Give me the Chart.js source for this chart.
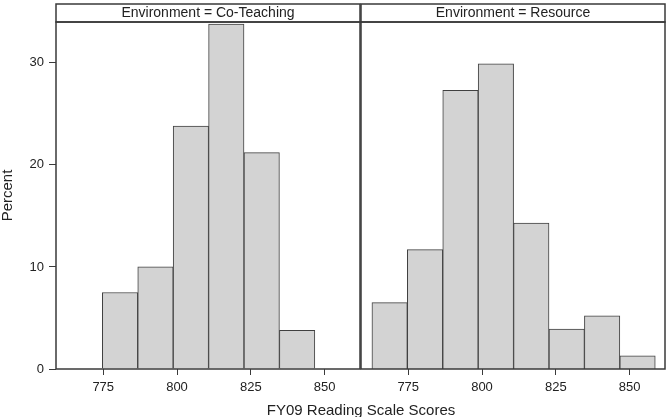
<!DOCTYPE html>
<html>
<head>
<meta charset="utf-8">
<script src="https://cdn.jsdelivr.net/npm/chart.js@4/dist/chart.umd.min.js"></script>
<style>
  body { margin: 0; background: #fff; }
  #wrap { position: relative; width: 666px; height: 417px; overflow: hidden; }
  canvas { position: absolute; left: 0; top: 0; }
  #xtitle { position: absolute; left: 0; width: 722px; top: 401px; text-align: center;
            font: 15px "Liberation Sans", Arial, sans-serif; color: #222; }
</style>
</head>
<body>
<div id="wrap">
  <canvas id="left" width="666" height="417"></canvas>
  <canvas id="right" width="666" height="417"></canvas>
  <div id="xtitle">FY09 Reading Scale Scores</div>
</div>
<script>
// bin midpoints (width 12) and percent per bin
const binMids = [768.7, 780.7, 792.7, 804.7, 816.7, 828.7, 840.7, 852.7];
const coTeaching = [0, 7.5, 10.0, 23.8, 33.8, 21.2, 3.8, 0];
const resource = [6.5, 11.7, 27.3, 29.9, 14.3, 3.9, 5.2, 1.3];
const xTicks = [775, 800, 825, 850];
const yTicks = [0, 10, 20, 30];
const panelNames = ["Environment = Co-Teaching", "Environment = Resource"];

const fontFam = '"Liberation Sans", Arial, sans-serif';
const ink = "#222";
const lineCol = "#3a3a3a";

// draws the panel frame and the header strip around the title
const framePlugin = {
    id: "frame",
    afterDraw(chart) {
        const ctx = chart.ctx;
        const a = chart.chartArea;
        ctx.save();
        ctx.strokeStyle = lineCol;
        ctx.lineWidth = 1.5;
        ctx.strokeRect(a.left, a.top, a.right - a.left, a.bottom - a.top);
        ctx.strokeRect(a.left, 4, a.right - a.left, a.top - 4);
        ctx.restore();
    }
};

function panel(id, name, values, showY, pad) {
    new Chart(document.getElementById(id).getContext("2d"), {
        type: "bar",
        data: {
            datasets: [{
                data: binMids.map((m, i) => ({ x: m, y: values[i] })),
                backgroundColor: "#d3d3d3",
                borderColor: "#404040",
                borderWidth: 1,
                barPercentage: 1,
                categoryPercentage: 1
            }]
        },
        options: {
            responsive: false,
            animation: false,
            layout: { padding: pad },
            plugins: {
                legend: { display: false },
                tooltip: { enabled: false },
                title: {
                    display: true,
                    text: name,
                    fullSize: false,
                    color: ink,
                    font: { family: fontFam, size: 14, weight: "normal" },
                    padding: { top: 0.6, bottom: 0.6 }
                }
            },
            scales: {
                x: {
                    type: "linear",
                    min: 759,
                    max: 862,
                    offset: false,
                    border: { display: false },
                    grid: { offset: false, drawOnChartArea: false, color: lineCol, tickLength: 6 },
                    ticks: { color: ink, font: { family: fontFam, size: 13 }, padding: 5, maxRotation: 0 },
                    afterBuildTicks: (s) => { s.ticks = xTicks.map(v => ({ value: v })); },
                    afterFit: (s) => { s.height = 48; }
                },
                y: {
                    display: showY,
                    min: 0,
                    max: 34,
                    border: { display: false },
                    grid: { drawOnChartArea: false, color: lineCol, tickLength: 7 },
                    ticks: { color: ink, font: { family: fontFam, size: 13 }, padding: 5 },
                    afterBuildTicks: (s) => { s.ticks = yTicks.map(v => ({ value: v })); },
                    afterFit: (s) => { s.width = showY ? 56 : 0; },
                    title: {
                        display: true,
                        text: "Percent",
                        color: ink,
                        font: { family: fontFam, size: 15 },
                        padding: { top: -1.5, bottom: 0 }
                    }
                }
            }
        },
        plugins: [framePlugin]
    });
}

panel("left", panelNames[0], coTeaching, true, { left: 0, right: 306, top: 4, bottom: 0 });
panel("right", panelNames[1], resource, false, { left: 361, right: 1, top: 4, bottom: 0 });
</script>
</body>
</html>
